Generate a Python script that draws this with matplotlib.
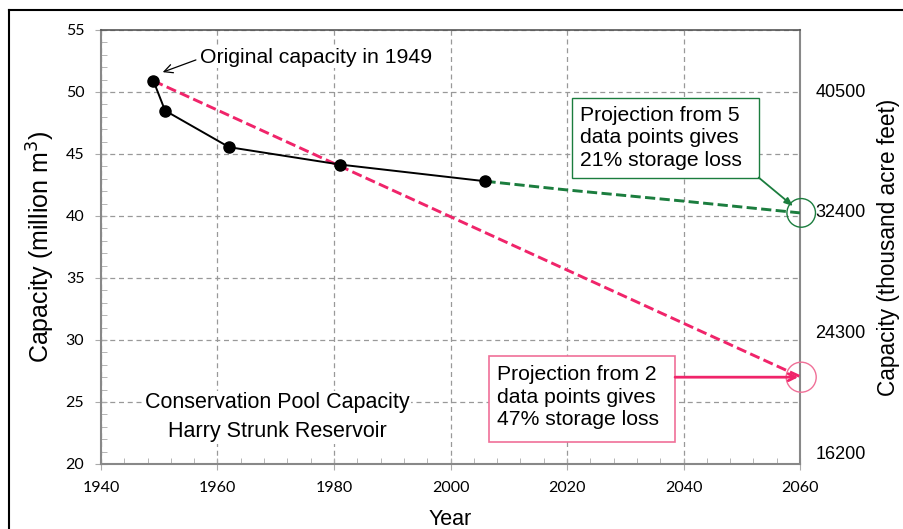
import matplotlib.pyplot as plt
from matplotlib.lines import Line2D
from matplotlib.patches import Ellipse, Rectangle
from matplotlib.ticker import MultipleLocator

# survey data (million m3)
years = [1949, 1951, 1962, 1981, 2006]
capacity = [50.9, 48.5, 45.55, 44.15, 42.8]

# projection from 5 data points
proj5_years = [2006, 2020, 2040, 2060]
proj5_cap = [42.8, 42.1, 41.2, 40.25]

# projection from 2 data points
proj2_years = [1949, 2060]
proj2_cap = [50.9, 27.05]

right_ticks = [16200, 24300, 32400, 40500]
right_lim = (15460, 44520)

pink = '#F0246A'
pink_light = '#F07098'
green = '#1B7D3E'
grid_gray = '#999999'

plt.rcParams['font.family'] = ['Liberation Sans', 'DejaVu Sans']

fig = plt.figure(figsize=(9.04, 5.29), dpi=100)
ax = fig.add_axes([0.1117, 0.1229, 0.7733, 0.8204])

ax.plot(proj2_years, proj2_cap, color=pink, lw=2.1, ls=(0, (3.5, 1.5)), zorder=3)
ax.plot(proj5_years, proj5_cap, color=green, lw=2.1, ls=(0, (3.5, 1.5)), zorder=3)
ax.plot(years, capacity, color='black', lw=1.4, marker='o', ms=8, zorder=4)

ax.set_xlim(1940, 2060)
ax.set_ylim(20, 55)
ax.xaxis.set_major_locator(MultipleLocator(20))
ax.xaxis.set_minor_locator(MultipleLocator(4))
ax.yaxis.set_major_locator(MultipleLocator(5))
ax.yaxis.set_minor_locator(MultipleLocator(1))
ax.tick_params(which='major', direction='inout', length=8, color='#aaaaaa',
               labelsize=11.5, pad=8)
ax.tick_params(which='minor', direction='in', length=4, color='#aaaaaa')
for lab in ax.get_xticklabels() + ax.get_yticklabels():
    lab.set_family(['Lato', 'Liberation Sans'])
ax.grid(True, which='major', color=grid_gray, ls=(0, (4, 3)), lw=0.9)
for s in ['left', 'bottom', 'right']:
    ax.spines[s].set_color('#888888')
    ax.spines[s].set_linewidth(1.5)
ax.spines['top'].set_color('#555555')
ax.spines['top'].set_linewidth(1.2)

ax.set_xlabel('Year', fontsize=15.5, labelpad=10)
ax.set_ylabel('Capacity (million m$^3$)', fontsize=18, labelpad=6)

ax2 = ax.twinx()
ax2.set_ylim(*right_lim)
ax2.set_yticks(right_ticks)
ax2.tick_params(length=0, labelsize=13, pad=11)
ax2.set_ylabel('Capacity (thousand acre feet)', fontsize=16.3, labelpad=8)
for s in ax2.spines.values():
    s.set_visible(False)

ax.text(1970.2, 23.75, 'Conservation Pool Capacity\nHarry Strunk Reservoir',
        ha='center', va='center', fontsize=15.5, linespacing=1.5,
        bbox=dict(fc='white', ec='none', pad=1))

ax.annotate('Original capacity in 1949', xy=(1950.6, 51.6), xytext=(1957.0, 52.34),
            fontsize=15.3, va='baseline', ha='left',
            bbox=dict(fc='white', ec='none', pad=1),
            arrowprops=dict(arrowstyle='->', color='black', lw=0.9,
                            relpos=(0, 0.45), shrinkA=2, shrinkB=0))

# circles marking the 2060 projections
ax.add_patch(Ellipse((2060.2, 40.25), 4.9, 2.31, fill=False, ec=green, lw=1,
                     clip_on=False, zorder=5))
ax.add_patch(Ellipse((2060.2, 27.0), 5.15, 2.42, fill=False, ec=pink_light, lw=1,
                     clip_on=False, zorder=5))

# callout boxes
ax.add_patch(Rectangle((2020.86, 43.06), 32.1, 6.46, fc='white', ec=green,
                       lw=1, zorder=6))
ax.text(2022.2, 46.3, 'Projection from 5\ndata points gives\n21% storage loss',
        fontsize=15.2, va='center', ha='left', linespacing=1.22, zorder=7)
ax.annotate('', xy=(2058.8, 40.8), xytext=(2052.9, 43.1),
            arrowprops=dict(arrowstyle='-|>,head_length=0.5,head_width=0.2',
                            color=green, lw=1.3, shrinkA=0, shrinkB=0), zorder=7)

ax.add_patch(Rectangle((2006.6, 21.77), 31.94, 6.94, fc='white', ec=pink_light,
                       lw=1.2, zorder=6))
ax.text(2008.0, 25.4, 'Projection from 2\ndata points gives\n47% storage loss',
        fontsize=15.2, va='center', ha='left', linespacing=1.22, zorder=7)
ax.annotate('', xy=(2059.7, 27.0), xytext=(2038.55, 27.0),
            arrowprops=dict(arrowstyle='->,head_length=0.5,head_width=0.25',
                            color=pink, lw=2, shrinkA=0, shrinkB=0), zorder=7)

# outer frame (left and top edges of the source picture)
fig.lines.append(Line2D([0.01, 0.01], [0, 0.981], transform=fig.transFigure,
                        color='black', lw=1.5))
fig.lines.append(Line2D([0.01, 1], [0.981, 0.981], transform=fig.transFigure,
                        color='black', lw=1.5))

fig.savefig('out.png', dpi=100)
